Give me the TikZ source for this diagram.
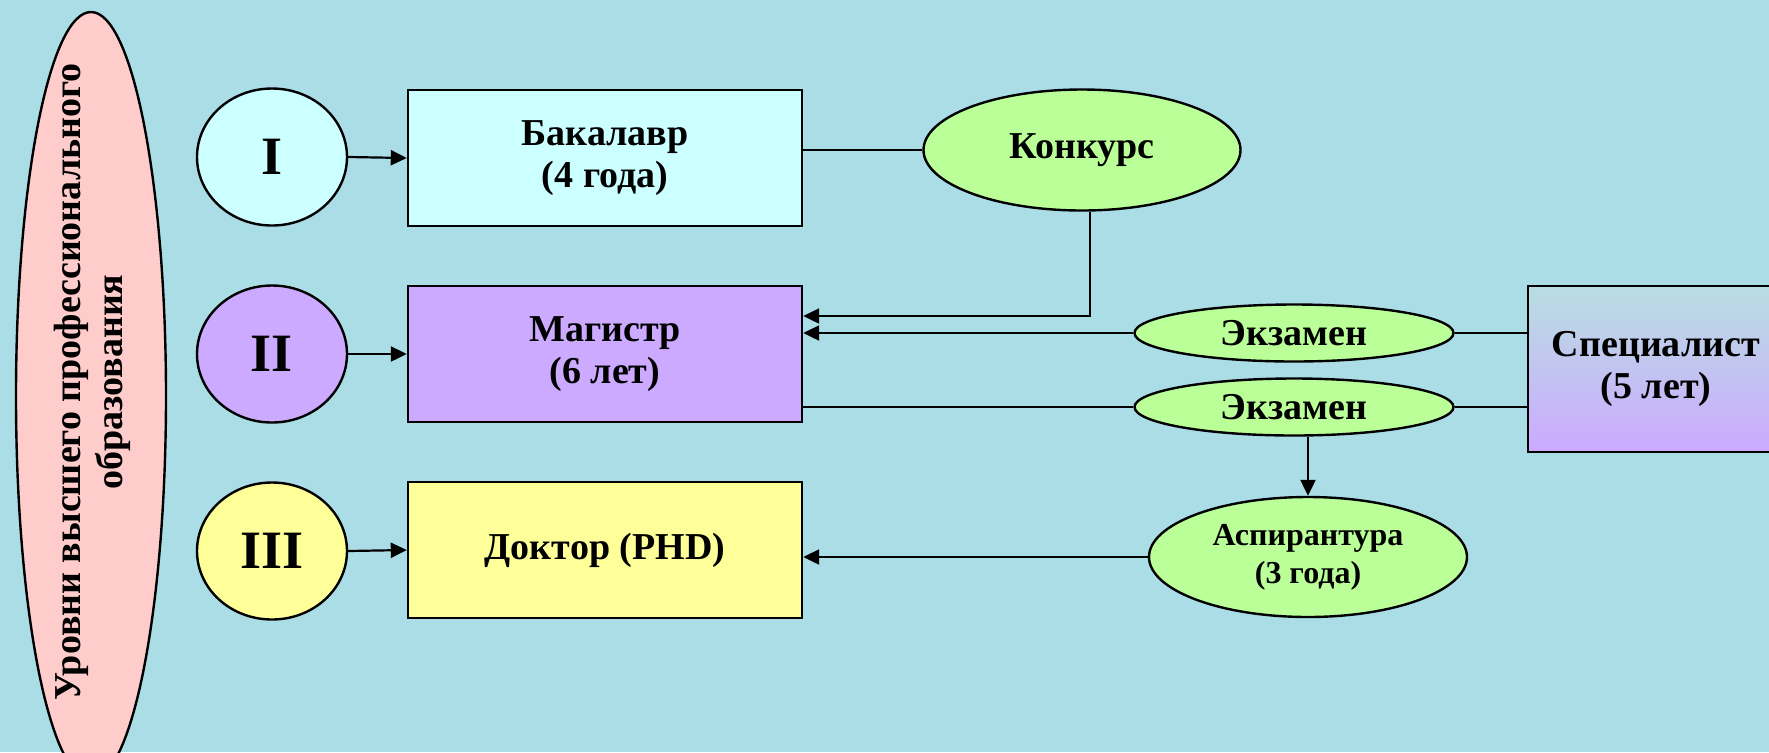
\documentclass[tikz,border=0pt]{standalone}
\usepackage{fontspec}
\setmainfont{Liberation Serif}
\usetikzlibrary{arrows.meta,shapes.geometric}

\definecolor{water}{HTML}{ABDDE7}
\definecolor{paleCyan}{HTML}{CCFFFF}
\definecolor{lilac}{HTML}{CCAAFF}
\definecolor{lemon}{HTML}{FFFF99}
\definecolor{salad}{HTML}{BBFF99}
\definecolor{rose}{HTML}{FFCCCC}
\definecolor{specTop}{HTML}{B8DEE2}

\tikzset{
  txt/.style={font=\fontsize{19}{21}\selectfont\bfseries, align=center},
  degree/.style={txt, draw, line width=1.2pt, minimum width=197pt, minimum height=68pt},
  roman/.style={ellipse, draw, line width=1.2pt, inner sep=0pt,
    minimum width=75pt, minimum height=68.5pt, font=\fontsize{27}{30}\selectfont\bfseries},
  oval/.style={txt, ellipse, draw, line width=1.2pt, fill=salad, inner sep=0pt},
  arr/.style={line width=1.1pt, -{Triangle[length=8pt,width=7.5pt]}},
  link/.style={line width=1.1pt}
}

\begin{document}
\begin{tikzpicture}[x=0.5pt, y=-0.5pt]
        \fill[water] (0,0) rectangle (1769,752);
        \useasboundingbox (0,0) rectangle (1769,752);

        % levels
        \node[ellipse, draw, line width=1.2pt, fill=rose, minimum width=75pt, minimum height=384pt] (lvl) at (91,396) {};
        \node[txt, rotate=90] (lvltxt) at (92,382) {Уровни высшего профессионального\\образования};

        \node[roman, fill=paleCyan] (rI) at (272,157) {I};
        \node[roman, fill=lilac] (rII) at (272,354) {II};
        \node[roman, fill=lemon] (rIII) at (272,551) {III};

        % degrees
        \node[degree, fill=paleCyan] (bak) at (605,158) {Бакалавр\\(4 года)};
        \node[degree, fill=lilac] (mag) at (605,354) {Магистр\\(6 лет)};
        \node[degree, fill=lemon] (dok) at (605,550) {Доктор (PHD)};
        \node[degree, top color=specTop, bottom color=lilac, minimum width=128pt, minimum height=83pt] (spec) at (1656,369) {Специалист\\(5 лет)};

        % ways
        \node[oval, minimum width=158.5pt, minimum height=60.5pt] (konk) at (1082,150) {Конкурс};
        \node[oval, minimum width=159.5pt, minimum height=28.5pt] (ex1) at (1294,333) {Экзамен};
        \node[oval, minimum width=159.5pt, minimum height=28.5pt] (ex2) at (1294,407) {Экзамен};
        \node[oval, font=\fontsize{16}{19}\selectfont\bfseries, minimum width=159pt, minimum height=60pt] (aspi) at (1308,557) {Аспирантура\\(3 года)};

        \foreach \a/\b in {rI/bak, rII/mag, rIII/dok}
            \draw[arr] (\a.east) -- (\b.west);

        \draw[link] (konk.west) -- (konk.west -| bak.east);
        \draw[arr] ([xshift=4pt]konk.south) |- ([yshift=19pt]mag.east);
        \draw[arr] (ex1.west) -- (ex1.west -| mag.east);
        \draw[link] (ex2.west -| mag.east) -- (ex2.west);
        \draw[link] (ex1.east) -- (ex1.east -| spec.west);
        \draw[link] (ex2.east) -- (ex2.east -| spec.west);
        \draw[arr] (aspi.north |- ex2.south) -- (aspi.north);
        \draw[arr] (aspi.west) -- (aspi.west -| dok.east);
    \end{tikzpicture}
\end{document}
